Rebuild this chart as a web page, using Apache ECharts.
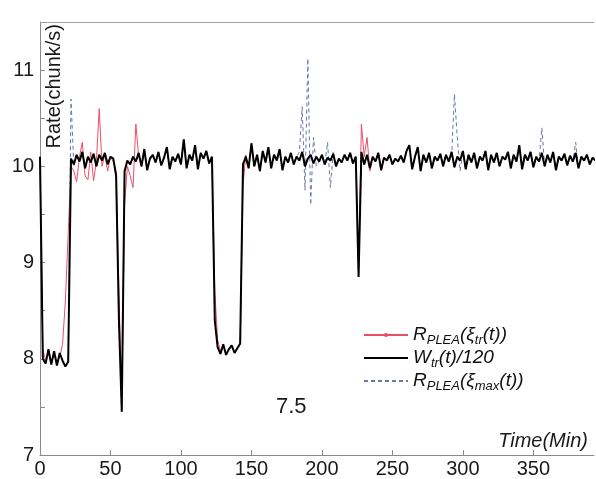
<!DOCTYPE html>
<html>
<head>
<meta charset="utf-8">
<script src="https://cdn.jsdelivr.net/npm/echarts@6/dist/echarts.min.js"></script>
<style>html,body{margin:0;padding:0;background:#fff}#c{width:596px;height:479px}</style>
</head>
<body>
<div id="c"></div>
<script>
// sampling grid (minutes)
const timeStart = 0;
const timeStep = 2;

// W_tr(t)/120  (black)
const wTr = [
10.10,8.00,7.95,8.10,7.94,8.08,7.93,8.06,7.98,7.92,7.97,10.08,10.02,10.12,10.05,10.15,9.98,10.10,10.04,10.13,
10.00,10.12,10.06,10.14,10.02,10.10,10.08,9.90,8.40,7.45,9.95,10.06,10.02,10.10,10.05,10.14,10.00,10.18,9.96,10.08,
10.12,10.04,10.15,10.01,10.09,10.20,9.97,10.10,10.05,10.13,10.02,10.28,9.98,10.12,10.06,10.22,9.97,10.14,10.08,10.16,
10.03,10.10,8.40,8.12,8.05,8.15,8.04,8.10,8.14,8.06,8.11,8.16,10.02,10.10,9.98,10.24,10.00,10.12,9.95,10.16,
10.04,10.20,9.98,10.12,10.06,10.18,9.96,10.10,10.04,10.14,10.02,10.10,10.06,10.15,10.00,10.08,10.12,10.03,10.10,10.05,
10.12,10.02,10.09,10.06,10.13,10.00,10.08,10.04,10.12,10.06,10.14,10.03,10.10,8.85,10.15,10.02,10.12,9.98,10.10,10.05,
10.14,9.96,10.09,10.06,10.12,10.02,10.08,10.05,10.11,10.04,10.16,10.22,9.97,10.10,10.20,9.95,10.12,10.04,10.14,9.98,
10.10,10.06,10.13,10.00,10.12,10.05,10.15,9.99,10.10,10.06,10.16,9.97,10.12,10.04,10.14,9.98,10.10,10.06,10.16,9.96,
10.12,10.04,10.14,10.00,10.10,10.07,10.15,9.98,10.12,10.05,10.22,9.97,10.12,10.06,10.15,9.99,10.10,10.05,10.14,10.00,
10.12,10.04,10.15,9.96,10.10,10.06,10.13,10.01,10.11,10.05,10.14,9.98,10.10,10.06,10.12,10.02,10.09,10.06
];

// R_PLEA(xi_tr(t))  (red)
const rTr = [
10.05,8.10,7.98,8.05,7.96,8.04,7.95,8.02,8.15,8.60,9.30,10.00,9.95,9.84,10.10,10.25,9.90,9.86,10.15,9.85,
10.05,10.60,10.00,10.12,9.95,10.10,10.05,9.95,8.70,7.50,9.60,10.00,9.90,9.78,10.44,10.10,10.00,10.15,9.98,10.08,
10.12,10.04,10.15,10.01,10.09,10.20,9.97,10.10,10.05,10.13,10.02,10.26,9.98,10.12,10.06,10.20,9.97,10.14,10.08,10.16,
10.03,10.08,8.70,8.20,8.08,8.14,8.05,8.10,8.13,8.07,8.11,8.15,9.80,10.12,9.98,10.22,10.00,10.12,9.95,10.16,
10.04,10.20,9.98,10.12,10.06,10.18,9.96,10.10,10.04,10.14,10.02,10.10,10.06,10.15,10.00,10.08,10.12,10.03,10.10,10.05,
10.12,10.02,10.09,10.06,10.13,10.00,10.08,10.04,10.12,10.06,10.14,10.03,10.10,8.95,10.44,10.10,10.30,9.95,10.10,10.05,
10.14,9.96,10.09,10.06,10.12,10.02,10.08,10.05,10.11,10.04,10.16,10.20,9.97,10.10,10.18,9.95,10.12,10.04,10.14,9.98,
10.10,10.06,10.13,10.00,10.12,10.05,10.15,9.99,10.10,10.06,10.16,9.97,10.12,10.04,10.14,9.98,10.10,10.06,10.16,9.96,
10.12,10.04,10.14,10.00,10.10,10.07,10.15,9.98,10.12,10.05,10.20,9.97,10.12,10.06,10.15,9.99,10.10,10.05,10.14,10.00,
10.12,10.04,10.15,9.96,10.10,10.06,10.13,10.01,10.11,10.05,10.14,9.98,10.10,10.06,10.12,10.02,10.09,10.06
];

// R_PLEA(xi_max(t))  (dashed)
const rMax = [
10.10,8.00,7.95,8.10,7.94,8.08,7.93,8.06,7.98,7.92,7.97,10.70,10.00,10.12,10.05,10.15,9.98,10.10,10.04,10.13,
10.00,10.12,10.06,10.14,10.02,10.10,10.08,9.90,8.40,7.45,9.95,10.06,10.02,10.10,10.05,10.14,10.00,10.18,9.96,10.08,
10.12,10.04,10.15,10.01,10.09,10.20,9.97,10.10,10.05,10.13,10.02,10.28,9.98,10.12,10.06,10.22,9.97,10.14,10.08,10.16,
10.03,10.10,8.40,8.12,8.05,8.15,8.04,8.10,8.14,8.06,8.11,8.16,10.02,10.10,9.98,10.24,10.00,10.12,9.95,10.16,
10.04,10.20,9.98,10.12,10.06,10.18,9.96,10.10,10.04,10.14,10.02,10.10,10.15,10.62,9.75,11.12,9.60,10.30,10.00,10.05,
10.12,10.02,10.25,9.78,10.15,10.00,10.08,10.04,10.12,10.06,10.14,10.03,10.10,8.85,10.15,10.02,10.12,9.98,10.10,10.05,
10.14,9.96,10.09,10.06,10.12,10.02,10.08,10.05,10.11,10.04,10.16,10.22,9.97,10.10,10.20,9.95,10.12,10.04,10.14,9.98,
10.10,10.06,10.13,10.00,10.12,10.05,10.10,10.75,10.30,9.95,10.16,9.97,10.12,10.04,10.14,9.98,10.10,10.06,10.16,9.96,
10.12,10.04,10.14,10.00,10.10,10.07,10.15,9.98,10.12,10.05,10.22,9.97,10.12,10.06,10.15,9.99,10.10,10.05,10.40,10.00,
10.12,10.04,10.15,9.96,10.10,10.06,10.13,10.01,10.11,10.05,10.25,9.98,10.10,10.06,10.12,10.02,10.09,10.06
];

const xTicks = [0, 50, 100, 150, 200, 250, 300, 350];
const yTicks = [7, 8, 9, 10, 11];
const yTop = 11.5;

const seriesNames = ['R_PLEA(ξ_tr(t))', 'W_tr(t)/120', 'R_PLEA(ξ_max(t))'];
const legendRich = {
  '0': '{i|R}{s|PLEA}{i|(ξ}{s|tr}{i|(t))}',
  '1': '{i|W}{s|tr}{i|(t)/120}',
  '2': '{i|R}{s|PLEA}{i|(ξ}{s|max}{i|(t))}'
};

function pairs(arr) {
  return arr.map((v, i) => [timeStart + i * timeStep, v]);
}

const FONT = '"Liberation Sans", Arial, sans-serif';
const chart = echarts.init(document.getElementById('c'), null, {renderer: 'canvas'});

const axisGray = '#8a8a8a';
const option = {
  animation: false,
  backgroundColor: '#fff',
  grid: {left: 40, right: 2, top: 22, bottom: 24, containLabel: false},
  legend: {
    orient: 'vertical',
    left: 358,
    top: 320,
    itemWidth: 44,
    itemHeight: 5,
    itemGap: 1,
    data: [
      {name: seriesNames[0]},
      {name: seriesNames[1], itemStyle: {opacity: 0}},
      {name: seriesNames[2], itemStyle: {opacity: 0}}
    ],
    formatter: name => legendRich[seriesNames.indexOf(name)],
    textStyle: {
      color: '#111',
      rich: {
        i: {fontStyle: 'italic', fontSize: 19, fontFamily: FONT, color: '#111', lineHeight: 24},
        s: {fontStyle: 'italic', fontSize: 13, fontFamily: FONT, color: '#111', verticalAlign: 'bottom', padding: [9, 0, 0, 0], lineHeight: 24}
      }
    }
  },
  xAxis: {
    type: 'value', min: 0, max: 393, interval: 50, position: 'bottom',
    axisLine: {show: true, onZero: false, lineStyle: {color: axisGray, width: 1}},
    axisTick: {show: true, inside: true, length: 5, lineStyle: {color: axisGray}},
    axisLabel: {
      fontSize: 20, fontFamily: FONT, color: '#1a1a1a', margin: 4,
      formatter: v => xTicks.indexOf(v) >= 0 ? String(v) : '',
      showMaxLabel: false
    },
    splitLine: {show: false}
  },
  yAxis: {
    type: 'value', min: 7, max: yTop, interval: 0.5,
    axisLine: {show: true, onZero: false, lineStyle: {color: axisGray, width: 1}},
    axisTick: {show: true, inside: true, length: 5, lineStyle: {color: axisGray}},
    axisLabel: {
      fontSize: 20, fontFamily: FONT, color: '#1a1a1a', margin: 6,
      formatter: v => yTicks.indexOf(v) >= 0 ? String(v) : ''
    },
    splitLine: {show: false}
  },
  series: [{
    name: seriesNames[0], type: 'line', data: pairs(rTr),
    symbol: 'circle', symbolSize: 4, showSymbol: false,
    lineStyle: {color: '#e8506a', width: 1}, itemStyle: {color: '#e8506a'},
    z: 2
  }, {
    name: seriesNames[2], type: 'line', data: pairs(rMax),
    symbol: 'none',
    lineStyle: {color: '#6878a8', width: 1, type: [4, 3]}, itemStyle: {color: '#6878a8'},
    z: 3
  }, {
    name: seriesNames[1], type: 'line', data: pairs(wTr),
    symbol: 'none',
    lineStyle: {color: '#000', width: 2}, itemStyle: {color: '#000'},
    z: 4,
    markLine: {
      silent: true, symbol: 'none', animation: false,
      label: {show: false},
      lineStyle: {color: '#a0a0a0', type: 'solid', width: 1},
      data: [{yAxis: yTop}]
    }
  }],
  graphic: [{
    type: 'text', left: 44, top: 24,
    style: {text: 'Rate(chunk/s)', font: '20px ' + FONT, fill: '#1a1a1a'},
    rotation: Math.PI / 2, x: 0, y: 0
  }, {
    type: 'text', right: 8, top: 431,
    style: {text: 'Time(Min)', font: 'italic 20px ' + FONT, fill: '#1a1a1a'}
  }, {
    type: 'text', left: 276, top: 396,
    style: {text: '7.5', font: '22px ' + FONT, fill: '#1a1a1a'}
  }]
};
chart.setOption(option);
</script>
</body>
</html>
